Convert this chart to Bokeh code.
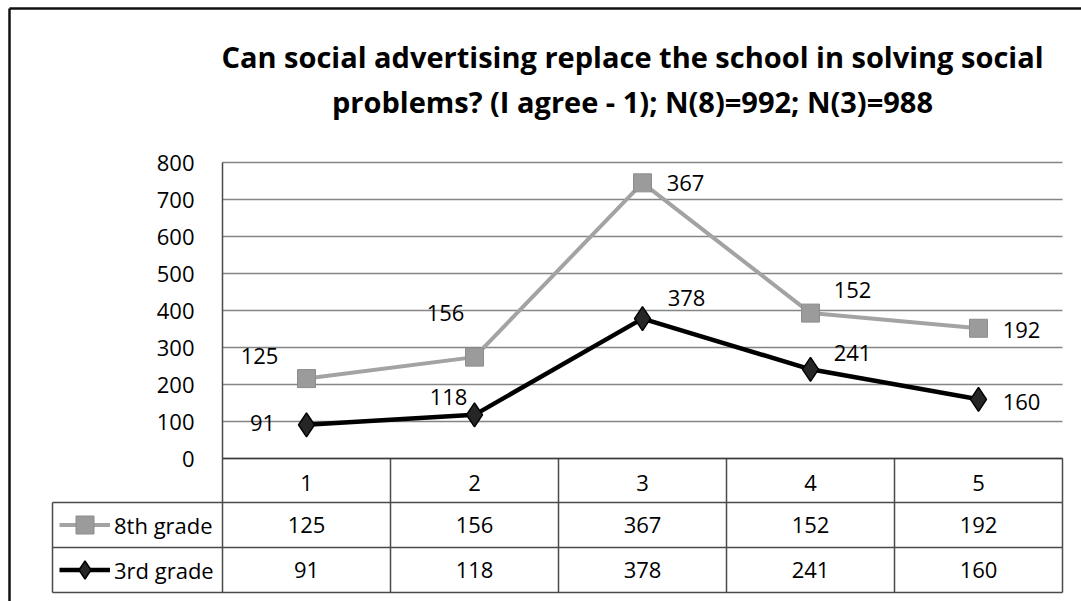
import numpy as np
from bokeh.plotting import figure
from bokeh.models import (ColumnDataSource, FixedTicker, Range1d, LabelSet, Label,
                          Legend, LegendItem)
from bokeh.core.properties import value
from bokeh.embed import file_html
from bokeh.resources import INLINE

# ---------------- data ----------------
title_lines = ["Can social advertising replace the school in solving social",
               "problems? (I agree - 1); N(8)=992; N(3)=988"]
categories = ["1", "2", "3", "4", "5"]
series_names = ["8th grade", "3rd grade"]
grade8 = [125, 156, 367, 152, 192]
grade3 = [91, 118, 378, 241, 160]
y_ticks = [0, 100, 200, 300, 400, 500, 600, 700, 800]

# ---------------- styles ----------------
FONT = "Open Sans"
FS = "22px"
# data-label pixel offsets (manual placement as in the original)
lbl8_xoff = [-47, -29, 43, 42, 43]
lbl8_yoff = [23, 44, 0, 23, -2]
lbl3_xoff = [-44, -26, 44, 42, 43]
lbl3_yoff = [2, 18, 21, 16, -3]

# canvas-pixel layout
W, H = 1081, 601
PLOT_L, PLOT_R, PLOT_T, PLOT_B = 222, 1062, 162, 458
ROW_LINES = [502, 547, 592]          # table row borders below the header
LEGEND_L = 52                        # left border of legend column

xs = np.arange(1, len(categories) + 1)
x0r, x1r = xs[0] - 0.5, xs[-1] + 0.5
kx = (PLOT_R - PLOT_L) / (x1r - x0r)
ky = (PLOT_B - PLOT_T) / (y_ticks[-1] - y_ticks[0])


def dx(px):
    return x0r + (px - PLOT_L) / kx


def dy(py):
    return y_ticks[0] + (PLOT_B - py) / ky


p = figure(width=W, height=H, output_backend="svg", toolbar_location=None,
           x_range=Range1d(dx(0), dx(W)), y_range=Range1d(dy(H), dy(0)),
           min_border=0, min_border_left=0, min_border_right=0,
           min_border_top=0, min_border_bottom=0)
p.outline_line_color = None
p.background_fill_color = "white"
p.border_fill_color = "white"
p.xgrid.visible = False
p.ygrid.visible = False

# y axis, pinned at the left edge of the plot area
p.yaxis.fixed_location = x0r
p.yaxis.ticker = FixedTicker(ticks=y_ticks)
p.yaxis.axis_line_color = None
p.yaxis.major_tick_line_color = None
p.yaxis.minor_tick_line_color = None
p.yaxis.major_label_standoff = 22
p.yaxis.major_label_text_font = FONT
p.yaxis.major_label_text_font_size = FS
p.yaxis.major_label_text_color = "#000000"

# x axis = header row of the data table, pinned at y = 0
p.xaxis.fixed_location = 0
p.xaxis.ticker = FixedTicker(ticks=[int(v) for v in xs])
p.xaxis.major_label_overrides = {int(v): c for v, c in zip(xs, categories)}
p.xaxis.axis_line_color = None
p.xaxis.major_tick_line_color = None
p.xaxis.minor_tick_line_color = None
p.xaxis.major_label_standoff = 10
p.xaxis.major_label_text_font = FONT
p.xaxis.major_label_text_font_size = FS
p.xaxis.major_label_text_color = "#000000"

# horizontal gridlines over the plot area only
p.segment(x0=[x0r] * len(y_ticks), x1=[x1r] * len(y_ticks), y0=y_ticks, y1=y_ticks,
          line_color="#858585", line_width=1.5)

# ---------------- data table lines ----------------
tb = dy(ROW_LINES[-1])
seg = dict(x0=[], y0=[], x1=[], y1=[])
for ry in ROW_LINES:  # horizontal table lines
    seg["x0"].append(dx(LEGEND_L)); seg["x1"].append(x1r)
    seg["y0"].append(dy(ry)); seg["y1"].append(dy(ry))
for bx in [v - 0.5 for v in xs[1:]] + [xs[-1] + 0.5]:  # column dividers
    seg["x0"].append(bx); seg["x1"].append(bx)
    seg["y0"].append(y_ticks[0]); seg["y1"].append(tb)
# value axis line continued through the table
seg["x0"].append(x0r); seg["x1"].append(x0r)
seg["y0"].append(y_ticks[-1]); seg["y1"].append(tb)
# left border of legend column
seg["x0"].append(dx(LEGEND_L)); seg["x1"].append(dx(LEGEND_L))
seg["y0"].append(dy(ROW_LINES[0])); seg["y1"].append(tb)
p.segment("x0", "y0", "x1", "y1", source=ColumnDataSource(seg),
          line_color="#4a4a4a", line_width=1.5)
# the zero line (top of the table) a bit darker
p.segment(x0=[x0r], x1=[x1r], y0=[y_ticks[0]], y1=[y_ticks[0]],
          line_color="#3a3a3a", line_width=1.5)

# chart border (top & left visible)
p.segment(x0=[dx(9), dx(9)], y0=[dy(8), dy(8)], x1=[dx(9), dx(W + 10)], y1=[dy(H + 10), dy(8)],
          line_color="#111111", line_width=2.5)

# ---------------- series (stacked line, as in the original) ----------------
g3 = np.array(grade3)
top8 = g3 + np.array(grade8)
src = ColumnDataSource(dict(
    x=xs, g3=g3, top8=top8,
    t8=[str(v) for v in grade8], t3=[str(v) for v in grade3],
    xo8=lbl8_xoff, yo8=lbl8_yoff, xo3=lbl3_xoff, yo3=lbl3_yoff))

r8 = p.line("x", "top8", source=src, line_color="#a3a3a3", line_width=4)
s8 = p.scatter("x", "top8", source=src, marker="square", size=18,
               fill_color="#9b9b9b", line_color="#8c8c8c", line_width=1)
r3 = p.line("x", "g3", source=src, line_color="#000000", line_width=4.5)
s3 = p.scatter("x", "g3", source=src, marker="diamond", size=24,
               fill_color="#262626", line_color="#000000", line_width=1.5)

p.add_layout(LabelSet(x="x", y="top8", text="t8", source=src,
                      x_offset="xo8", y_offset="yo8",
                      text_align="center", text_baseline="middle",
                      text_font=value(FONT), text_font_size=value(FS),
                      text_color="#000000"))
p.add_layout(LabelSet(x="x", y="g3", text="t3", source=src,
                      x_offset="xo3", y_offset="yo3",
                      text_align="center", text_baseline="middle",
                      text_font=value(FONT), text_font_size=value(FS),
                      text_color="#000000"))

# ---------------- data table values ----------------
row_tops = [PLOT_B] + ROW_LINES
row_centers = [dy((row_tops[i + 1] + row_tops[i + 2]) / 2) for i in range(2)]
tab_src = ColumnDataSource(dict(
    x=list(xs) + list(xs),
    y=[row_centers[0]] * len(xs) + [row_centers[1]] * len(xs),
    t=[str(v) for v in grade8] + [str(v) for v in grade3]))
p.add_layout(LabelSet(x="x", y="y", text="t", source=tab_src,
                      text_align="center", text_baseline="middle",
                      text_font=value(FONT), text_font_size=value(FS),
                      text_color="#000000"))

# legend keys inside the table
legend = Legend(items=[LegendItem(label=series_names[0], renderers=[r8, s8]),
                       LegendItem(label=series_names[1], renderers=[r3, s3])],
                location=(59, H - ROW_LINES[-1]),
                orientation="vertical", glyph_width=51, glyph_height=45,
                label_height=45, label_standoff=4, padding=0, margin=0, spacing=0,
                border_line_color=None, background_fill_alpha=0,
                label_text_font=FONT, label_text_font_size=FS,
                label_text_color="#000000")
p.add_layout(legend)

# title
for line, base in zip(title_lines, [56, 101]):
    p.add_layout(Label(x=dx(632), y=dy(base), text=line, text_align="center",
                       text_baseline="alphabetic", text_font=FONT,
                       text_font_style="bold", text_font_size="29px",
                       text_color="#000000"))

open("out.html", "w").write(file_html(p, INLINE))
